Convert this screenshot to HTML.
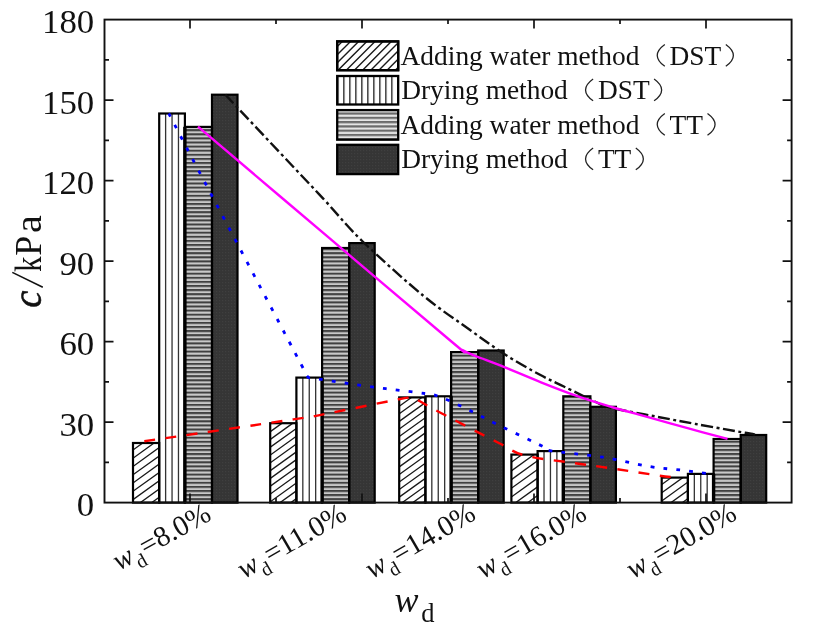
<!DOCTYPE html>
<html><head><meta charset="utf-8"><title>chart</title>
<style>html,body{margin:0;padding:0;background:#fff;}svg{display:block;will-change:transform;}text{font-family:"Liberation Serif",serif;fill:#111;}</style></head><body>
<svg width="824" height="630" viewBox="0 0 824 630">
<defs>
<pattern id="hd" patternUnits="userSpaceOnUse" width="8" height="6.5" patternTransform="rotate(-38)"><rect width="8" height="6.5" fill="#fff"/><rect y="0" width="8" height="1.25" fill="#1a1a1a"/></pattern>
<pattern id="ld" patternUnits="userSpaceOnUse" width="8" height="5.8" patternTransform="translate(336.5 0) rotate(-45)"><rect width="8" height="5.8" fill="#fff"/><rect y="0" width="8" height="1.4" fill="#1a1a1a"/></pattern>
<pattern id="lv" patternUnits="userSpaceOnUse" width="6" height="6" x="343.1"><rect width="6" height="6" fill="#fff"/><rect x="0" width="1.5" height="6" fill="#383838"/></pattern>
<pattern id="hh" patternUnits="userSpaceOnUse" width="4" height="4.1" y="2.1"><rect width="4" height="4.1" fill="#c8c8c8"/><rect y="0" width="4" height="2" fill="#404040"/></pattern>
<pattern id="lh" patternUnits="userSpaceOnUse" width="4" height="4.28" y="1.2"><rect width="4" height="4.28" fill="#e4e4e4"/><rect y="0" width="4" height="2.2" fill="#6a6a6a"/></pattern>
<pattern id="hk" patternUnits="userSpaceOnUse" width="3" height="3"><rect width="3" height="3" fill="#353535"/><rect width="1.2" height="1.2" fill="#3f3f3f"/></pattern>
</defs>
<rect width="824" height="630" fill="#fff"/>
<clipPath id="cd"><rect x="133.0" y="443.0" width="26.2" height="59.6"/><rect x="270.2" y="423.2" width="26.2" height="79.4"/><rect x="399.2" y="397.4" width="26.2" height="105.2"/><rect x="511.4" y="454.6" width="26.2" height="48.0"/><rect x="661.7" y="477.6" width="26.2" height="25.0"/></clipPath>
<clipPath id="cl"><rect x="337.2" y="41.4" width="61" height="28.8"/></clipPath>
<rect x="133.0" y="443.0" width="26.2" height="59.6" fill="#fff"/>
<rect x="159.2" y="113.5" width="25.7" height="389.1" fill="#fff"/>
<rect x="184.9" y="126.9" width="27.1" height="375.7" fill="url(#hh)"/>
<rect x="212.0" y="94.7" width="25.5" height="407.9" fill="url(#hk)"/>
<rect x="270.2" y="423.2" width="26.2" height="79.4" fill="#fff"/>
<rect x="296.4" y="377.6" width="25.7" height="125.0" fill="#fff"/>
<rect x="322.1" y="248.0" width="27.1" height="254.6" fill="url(#hh)"/>
<rect x="349.2" y="243.1" width="25.5" height="259.5" fill="url(#hk)"/>
<rect x="399.2" y="397.4" width="26.2" height="105.2" fill="#fff"/>
<rect x="425.4" y="396.3" width="25.7" height="106.3" fill="#fff"/>
<rect x="451.1" y="352.1" width="27.1" height="150.5" fill="url(#hh)"/>
<rect x="478.2" y="350.5" width="25.5" height="152.1" fill="url(#hk)"/>
<rect x="511.4" y="454.6" width="26.2" height="48.0" fill="#fff"/>
<rect x="537.6" y="451.1" width="25.7" height="51.5" fill="#fff"/>
<rect x="563.3" y="396.3" width="27.1" height="106.3" fill="url(#hh)"/>
<rect x="590.4" y="406.8" width="25.5" height="95.8" fill="url(#hk)"/>
<rect x="661.7" y="477.6" width="26.2" height="25.0" fill="#fff"/>
<rect x="687.9" y="473.9" width="25.7" height="28.7" fill="#fff"/>
<rect x="713.6" y="439.0" width="27.1" height="63.6" fill="url(#hh)"/>
<rect x="740.7" y="435.0" width="25.5" height="67.6" fill="url(#hk)"/>
<path d="M132.0 417.6L160.2 397.3M132.0 425.9L160.2 405.6M132.0 434.1L160.2 413.8M132.0 442.4L160.2 422.1M132.0 450.7L160.2 430.4M132.0 458.9L160.2 438.6M132.0 467.2L160.2 446.9M132.0 475.5L160.2 455.2M132.0 483.7L160.2 463.4M132.0 492.0L160.2 471.7M132.0 500.3L160.2 480.0M132.0 508.6L160.2 488.3M132.0 516.8L160.2 496.5M269.2 401.2L297.4 380.9M269.2 409.0L297.4 388.7M269.2 416.8L297.4 396.5M269.2 424.6L297.4 404.3M269.2 432.4L297.4 412.1M269.2 440.2L297.4 419.9M269.2 448.0L297.4 427.7M269.2 455.8L297.4 435.5M269.2 463.6L297.4 443.3M269.2 471.4L297.4 451.1M269.2 479.2L297.4 458.9M269.2 487.0L297.4 466.7M269.2 494.8L297.4 474.5M269.2 502.6L297.4 482.3M269.2 510.4L297.4 490.1M269.2 518.2L297.4 497.9M398.2 376.6L426.4 356.3M398.2 384.2L426.4 363.9M398.2 391.8L426.4 371.5M398.2 399.4L426.4 379.1M398.2 407.0L426.4 386.7M398.2 414.5L426.4 394.2M398.2 422.1L426.4 401.8M398.2 429.7L426.4 409.4M398.2 437.3L426.4 417.0M398.2 444.9L426.4 424.6M398.2 452.4L426.4 432.1M398.2 460.0L426.4 439.7M398.2 467.6L426.4 447.3M398.2 475.2L426.4 454.9M398.2 482.8L426.4 462.5M398.2 490.3L426.4 470.0M398.2 497.9L426.4 477.6M398.2 505.5L426.4 485.2M398.2 513.1L426.4 492.8M398.2 520.7L426.4 500.4M510.4 428.1L538.6 407.8M510.4 436.8L538.6 416.5M510.4 445.5L538.6 425.2M510.4 454.2L538.6 433.9M510.4 462.9L538.6 442.6M510.4 471.6L538.6 451.3M510.4 480.3L538.6 460.0M510.4 489.0L538.6 468.7M510.4 497.7L538.6 477.4M510.4 506.4L538.6 486.1M510.4 515.1L538.6 494.8M510.4 523.8L538.6 503.5M660.7 452.3L688.9 431.9M660.7 460.5L688.9 440.2M660.7 468.8L688.9 448.4M660.7 477.0L688.9 456.7M660.7 485.3L688.9 464.9M660.7 493.5L688.9 473.2M660.7 501.8L688.9 481.4M660.7 510.0L688.9 489.7M660.7 518.3L688.9 497.9" stroke="#1a1a1a" stroke-width="1.3" fill="none" clip-path="url(#cd)"/>
<rect x="133.0" y="443.0" width="26.2" height="59.6" fill="none" stroke="#000" stroke-width="2.2"/>
<path d="M165.62 113.5V502.6M172.05 113.5V502.6M178.47 113.5V502.6" stroke="#333" stroke-width="1.3" fill="none"/>
<rect x="159.2" y="113.5" width="25.7" height="389.1" fill="none" stroke="#000" stroke-width="2.2"/>
<rect x="184.9" y="126.9" width="27.1" height="375.7" fill="none" stroke="#000" stroke-width="2.2"/>
<rect x="212.0" y="94.7" width="25.5" height="407.9" fill="none" stroke="#000" stroke-width="2.2"/>
<path d="M184.9 126.9V502.6" stroke="#000" stroke-width="3.4" fill="none"/>
<rect x="270.2" y="423.2" width="26.2" height="79.4" fill="none" stroke="#000" stroke-width="2.2"/>
<path d="M302.82 377.6V502.6M309.25 377.6V502.6M315.67 377.6V502.6" stroke="#333" stroke-width="1.3" fill="none"/>
<rect x="296.4" y="377.6" width="25.7" height="125.0" fill="none" stroke="#000" stroke-width="2.2"/>
<rect x="322.1" y="248.0" width="27.1" height="254.6" fill="none" stroke="#000" stroke-width="2.2"/>
<rect x="349.2" y="243.1" width="25.5" height="259.5" fill="none" stroke="#000" stroke-width="2.2"/>
<path d="M322.1 377.6V502.6" stroke="#000" stroke-width="3.4" fill="none"/>
<rect x="399.2" y="397.4" width="26.2" height="105.2" fill="none" stroke="#000" stroke-width="2.2"/>
<path d="M431.82 396.3V502.6M438.25 396.3V502.6M444.67 396.3V502.6" stroke="#333" stroke-width="1.3" fill="none"/>
<rect x="425.4" y="396.3" width="25.7" height="106.3" fill="none" stroke="#000" stroke-width="2.2"/>
<rect x="451.1" y="352.1" width="27.1" height="150.5" fill="none" stroke="#000" stroke-width="2.2"/>
<rect x="478.2" y="350.5" width="25.5" height="152.1" fill="none" stroke="#000" stroke-width="2.2"/>
<path d="M451.1 396.3V502.6" stroke="#000" stroke-width="3.4" fill="none"/>
<rect x="511.4" y="454.6" width="26.2" height="48.0" fill="none" stroke="#000" stroke-width="2.2"/>
<path d="M544.02 451.1V502.6M550.45 451.1V502.6M556.88 451.1V502.6" stroke="#333" stroke-width="1.3" fill="none"/>
<rect x="537.6" y="451.1" width="25.7" height="51.5" fill="none" stroke="#000" stroke-width="2.2"/>
<rect x="563.3" y="396.3" width="27.1" height="106.3" fill="none" stroke="#000" stroke-width="2.2"/>
<rect x="590.4" y="406.8" width="25.5" height="95.8" fill="none" stroke="#000" stroke-width="2.2"/>
<path d="M563.3 451.1V502.6" stroke="#000" stroke-width="3.4" fill="none"/>
<rect x="661.7" y="477.6" width="26.2" height="25.0" fill="none" stroke="#000" stroke-width="2.2"/>
<path d="M694.33 473.9V502.6M700.75 473.9V502.6M707.18 473.9V502.6" stroke="#333" stroke-width="1.3" fill="none"/>
<rect x="687.9" y="473.9" width="25.7" height="28.7" fill="none" stroke="#000" stroke-width="2.2"/>
<rect x="713.6" y="439.0" width="27.1" height="63.6" fill="none" stroke="#000" stroke-width="2.2"/>
<rect x="740.7" y="435.0" width="25.5" height="67.6" fill="none" stroke="#000" stroke-width="2.2"/>
<path d="M713.6 473.9V502.6" stroke="#000" stroke-width="3.4" fill="none"/>
<rect x="104.5" y="19.6" width="687.1" height="483.0" fill="none" stroke="#111" stroke-width="1.9"/>
<path d="M104.5 462.4h4.5M791.6 462.4h-4.5" stroke="#111" stroke-width="1.7"/>
<path d="M104.5 422.1h9M791.6 422.1h-9" stroke="#111" stroke-width="1.7"/>
<path d="M104.5 381.9h4.5M791.6 381.9h-4.5" stroke="#111" stroke-width="1.7"/>
<path d="M104.5 341.6h9M791.6 341.6h-9" stroke="#111" stroke-width="1.7"/>
<path d="M104.5 301.4h4.5M791.6 301.4h-4.5" stroke="#111" stroke-width="1.7"/>
<path d="M104.5 261.1h9M791.6 261.1h-9" stroke="#111" stroke-width="1.7"/>
<path d="M104.5 220.9h4.5M791.6 220.9h-4.5" stroke="#111" stroke-width="1.7"/>
<path d="M104.5 180.6h9M791.6 180.6h-9" stroke="#111" stroke-width="1.7"/>
<path d="M104.5 140.4h4.5M791.6 140.4h-4.5" stroke="#111" stroke-width="1.7"/>
<path d="M104.5 100.1h9M791.6 100.1h-9" stroke="#111" stroke-width="1.7"/>
<path d="M104.5 59.9h4.5M791.6 59.9h-4.5" stroke="#111" stroke-width="1.7"/>
<path d="M190 19.6v9M190 502.6v-9" stroke="#111" stroke-width="1.7"/>
<path d="M276 19.6v4.5M276 502.6v-4.5" stroke="#111" stroke-width="1.7"/>
<path d="M362 19.6v9M362 502.6v-9" stroke="#111" stroke-width="1.7"/>
<path d="M448 19.6v4.5M448 502.6v-4.5" stroke="#111" stroke-width="1.7"/>
<path d="M534 19.6v9M534 502.6v-9" stroke="#111" stroke-width="1.7"/>
<path d="M620 19.6v4.5M620 502.6v-4.5" stroke="#111" stroke-width="1.7"/>
<path d="M706 19.6v9M706 502.6v-9" stroke="#111" stroke-width="1.7"/>
<text x="76.8" y="516.2" font-size="34.5" textLength="17.4" lengthAdjust="spacingAndGlyphs">0</text>
<text x="59.4" y="435.7" font-size="34.5" textLength="34.8" lengthAdjust="spacingAndGlyphs">30</text>
<text x="59.4" y="355.2" font-size="34.5" textLength="34.8" lengthAdjust="spacingAndGlyphs">60</text>
<text x="59.4" y="274.7" font-size="34.5" textLength="34.8" lengthAdjust="spacingAndGlyphs">90</text>
<text x="42.0" y="194.2" font-size="34.5" textLength="52.2" lengthAdjust="spacingAndGlyphs">120</text>
<text x="42.0" y="113.7" font-size="34.5" textLength="52.2" lengthAdjust="spacingAndGlyphs">150</text>
<text x="42.0" y="33.2" font-size="34.5" textLength="52.2" lengthAdjust="spacingAndGlyphs">180</text>
<path d="M225.3 94.6C234.2 104.1 262.5 134.2 278.8 151.5C295.1 168.8 309.1 183.5 323.2 198.6C337.3 213.7 346.4 225.8 363.2 242.0C380.0 258.2 406.3 281.7 423.8 296.1C441.3 310.5 454.5 318.8 468.0 328.5C481.5 338.2 493.0 346.8 505.0 354.5C517.0 362.2 530.2 369.5 540.0 374.8C549.8 380.1 554.3 381.9 563.8 386.5C573.3 391.1 589.8 399.1 596.8 402.5C603.8 405.9 602.6 405.6 606.0 406.7C609.4 407.8 609.3 407.6 617.4 409.2C625.5 410.8 641.5 413.8 654.6 416.3C667.7 418.8 680.7 421.2 695.8 424.0C710.9 426.8 735.4 431.1 745.3 432.8C755.2 434.6 753.4 434.2 755.0 434.5" fill="none" stroke="#111" stroke-width="2.4" stroke-dasharray="12 3.5 3 3.5"/>
<path d="M198.0 126.7C220.0 145.4 287.7 202.8 330.0 238.7C372.3 274.6 429.8 323.4 452.0 342.0C474.2 360.6 459.7 348.2 463.0 350.3C466.3 352.4 468.8 353.2 472.0 354.6C475.2 356.0 476.6 356.4 482.1 358.5C487.6 360.6 495.2 363.4 505.0 367.4C514.8 371.4 528.5 377.3 541.0 382.3C553.5 387.3 568.2 393.0 580.3 397.2C592.3 401.4 602.3 404.3 613.3 407.5C624.3 410.7 633.9 413.2 646.3 416.6C658.7 420.1 674.1 424.5 687.6 428.2C701.1 431.9 720.9 437.0 727.5 438.8" fill="none" stroke="#ff00ff" stroke-width="2.4"/>
<path d="M168.8 113.5C173.6 122.8 179.5 134.3 197.8 169.0C216.1 203.7 261.1 288.5 278.5 321.5C295.9 354.5 297.7 357.8 302.5 367.0C307.3 376.2 305.8 374.6 307.5 376.5C309.2 378.4 306.4 377.1 313.0 378.2C319.6 379.3 335.2 381.6 347.4 383.4C359.6 385.1 373.1 387.0 386.0 388.7C398.9 390.4 415.9 392.2 424.8 393.5C433.7 394.8 433.0 394.4 439.5 396.7C446.0 399.0 453.6 402.6 463.6 407.4C473.6 412.2 486.1 419.0 499.6 425.6C513.1 432.2 536.0 443.1 544.6 447.3C553.2 451.5 541.3 449.2 551.0 450.8C560.7 452.4 586.3 454.6 602.8 457.2C619.3 459.8 636.8 464.4 650.2 466.6C663.6 468.8 673.3 469.1 683.0 470.3C692.7 471.5 704.2 473.1 708.4 473.6" fill="none" stroke="#0000ff" stroke-width="2.8" stroke-dasharray="3.8 9.1"/>
<path d="M144.3 441.2C169.2 437.6 263.3 423.9 293.4 419.4C323.5 414.9 308.3 417.2 324.7 414.1C341.1 411.0 377.6 403.4 391.5 400.7C405.4 397.9 404.2 398.0 408.0 397.6C411.8 397.2 408.8 395.8 414.0 398.2C419.2 400.6 425.4 404.8 439.5 412.2C453.6 419.6 484.1 435.5 498.3 442.7C512.5 449.9 512.0 452.0 524.6 455.4C537.2 458.8 558.2 460.7 573.7 463.0C589.2 465.3 603.4 467.1 617.4 469.2C631.4 471.3 647.8 474.0 657.5 475.4C667.2 476.8 672.7 477.2 675.7 477.6" fill="none" stroke="#ff0000" stroke-width="2.4" stroke-dasharray="11 10.4"/>
<rect x="337.2" y="41.4" width="61" height="28.8" fill="#fff" stroke="#000" stroke-width="2.3"/>
<rect x="337.2" y="76.0" width="61" height="28.5" fill="url(#lv)" stroke="#000" stroke-width="2.3"/>
<rect x="337.2" y="110.1" width="61" height="29.6" fill="url(#lh)" stroke="#000" stroke-width="2.3"/>
<rect x="337.2" y="144.79999999999998" width="61" height="29.3" fill="url(#hk)" stroke="#000" stroke-width="2.3"/>
<path d="M267.9 75L307.9 35M276.1 75L316.1 35M284.3 75L324.3 35M292.4 75L332.4 35M300.6 75L340.6 35M308.8 75L348.8 35M317.0 75L357.0 35M325.1 75L365.1 35M333.3 75L373.3 35M341.5 75L381.5 35M349.6 75L389.6 35M357.8 75L397.8 35M366.0 75L406.0 35M374.1 75L414.1 35M382.3 75L422.3 35M390.5 75L430.5 35" stroke="#1a1a1a" stroke-width="1.4" fill="none" clip-path="url(#cl)"/>
<rect x="337.2" y="41.4" width="61" height="28.8" fill="none" stroke="#000" stroke-width="2.3"/>
<text x="400.6" y="64.9" font-size="27.4">Adding water method</text>
<path d="M664.8 44.5Q649.7 55.4 664.8 66.3" fill="none" stroke="#222" stroke-width="1.3"/>
<text x="669.6" y="64.9" font-size="27.4">DST</text>
<path d="M725.8 44.5Q740.9 55.4 725.8 66.3" fill="none" stroke="#222" stroke-width="1.3"/>
<text x="401.2" y="99.4" font-size="27.4">Drying method</text>
<path d="M593.1 79.0Q578.0 89.9 593.1 100.8" fill="none" stroke="#222" stroke-width="1.3"/>
<text x="597.9" y="99.4" font-size="27.4">DST</text>
<path d="M654.1 79.0Q669.2 89.9 654.1 100.8" fill="none" stroke="#222" stroke-width="1.3"/>
<text x="400.6" y="133.9" font-size="27.4">Adding water method</text>
<path d="M664.8 113.5Q649.7 124.4 664.8 135.3" fill="none" stroke="#222" stroke-width="1.3"/>
<text x="669.6" y="133.9" font-size="27.4">TT</text>
<path d="M707.5 113.5Q722.6 124.4 707.5 135.3" fill="none" stroke="#222" stroke-width="1.3"/>
<text x="401.2" y="168.4" font-size="27.4">Drying method</text>
<path d="M593.1 148.0Q578.0 158.9 593.1 169.8" fill="none" stroke="#222" stroke-width="1.3"/>
<text x="597.9" y="168.4" font-size="27.4">TT</text>
<path d="M635.8 148.0Q650.9 158.9 635.8 169.8" fill="none" stroke="#222" stroke-width="1.3"/>
<g transform="translate(41.3,307.7) rotate(-90)"><text x="0" y="0" font-size="43" font-style="italic" stroke="#111" stroke-width="0.6" textLength="17.2" lengthAdjust="spacingAndGlyphs">c</text><path d="M20.5 1.5L35.3 -29" stroke="#111" stroke-width="1.6" fill="none"/><text x="35.6" y="0" font-size="37" textLength="15.5" lengthAdjust="spacingAndGlyphs">k</text><text x="52" y="0" font-size="37" textLength="20" lengthAdjust="spacingAndGlyphs">P</text><text x="74.8" y="0" font-size="37" textLength="17.8" lengthAdjust="spacingAndGlyphs">a</text></g>
<text x="394.5" y="612" font-size="36" font-style="italic">w</text>
<text x="421.3" y="621.7" font-size="26.5">d</text>
<g transform="translate(119,571) rotate(-29)"><text x="0" y="0" font-size="29" font-style="italic">w</text><text x="19.5" y="8.5" font-size="19.5">d</text><text x="30.5" y="0" font-size="29">=8.0%</text></g>
<g transform="translate(244,579.3) rotate(-30)"><text x="0" y="0" font-size="29" font-style="italic">w</text><text x="19.5" y="8.5" font-size="19.5">d</text><text x="30.5" y="0" font-size="29">=11.0%</text></g>
<g transform="translate(372,579.3) rotate(-30)"><text x="0" y="0" font-size="29" font-style="italic">w</text><text x="19.5" y="8.5" font-size="19.5">d</text><text x="30.5" y="0" font-size="29">=14.0%</text></g>
<g transform="translate(483,579.3) rotate(-30)"><text x="0" y="0" font-size="29" font-style="italic">w</text><text x="19.5" y="8.5" font-size="19.5">d</text><text x="30.5" y="0" font-size="29">=16.0%</text></g>
<g transform="translate(633,579.3) rotate(-30)"><text x="0" y="0" font-size="29" font-style="italic">w</text><text x="19.5" y="8.5" font-size="19.5">d</text><text x="30.5" y="0" font-size="29">=20.0%</text></g>
</svg></body></html>
